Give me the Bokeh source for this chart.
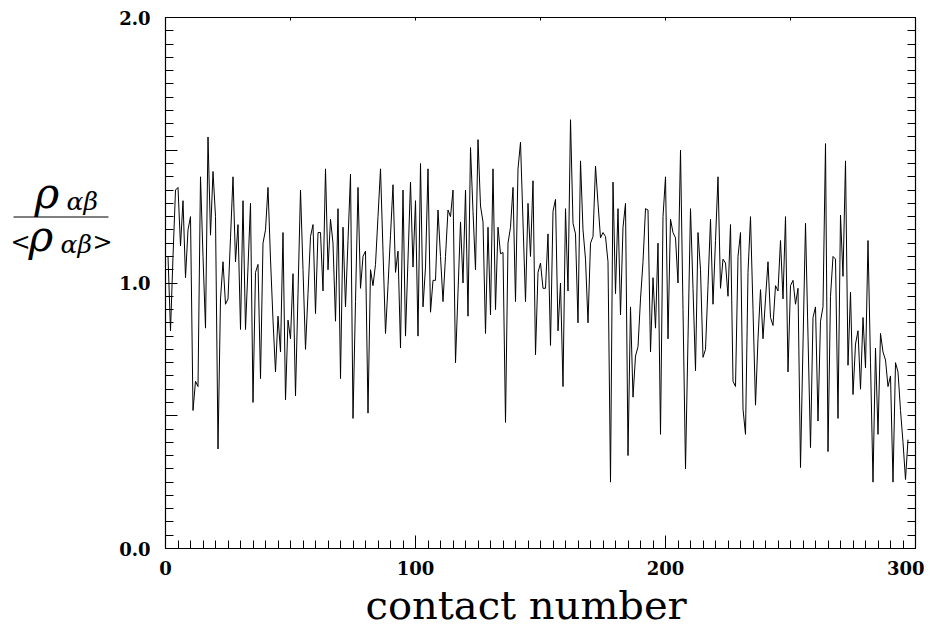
from bokeh.plotting import figure
from bokeh.layouts import row
from bokeh.models import FixedTicker, LinearAxis, Range1d, PrintfTickFormatter, Title
from bokeh.core.properties import value
from bokeh.embed import file_html
from bokeh.resources import INLINE

ratio = [
    1.10, 0.82, 1.10, 1.35, 1.36, 1.14, 1.31, 1.02, 1.20, 1.25,
    0.52, 0.63, 0.61, 1.40, 1.10, 0.83, 1.55, 1.18, 1.42, 1.25,
    0.375, 0.94, 1.08, 0.92, 0.94, 1.17, 1.40, 1.08, 1.22, 0.825,
    1.31, 0.825, 1.06, 1.30, 0.55, 1.04, 1.07, 0.64, 1.15, 1.20,
    1.36, 1.09, 0.86, 0.665, 0.875, 0.74, 1.19, 0.56, 0.86, 0.79,
    1.035, 0.575, 0.96, 1.35, 1.05, 0.75, 0.96, 1.175, 1.22, 0.885,
    1.19, 1.19, 0.97, 1.43, 1.05, 1.24, 1.15, 0.856, 1.28, 0.64,
    1.21, 0.91, 1.16, 1.41, 0.49, 0.93, 1.36, 0.98, 1.10, 1.12,
    0.51, 1.05, 0.99, 1.07, 1.25, 1.43, 1.12, 0.81, 0.99, 1.18,
    1.37, 1.04, 1.12, 0.755, 1.35, 0.80, 1.09, 1.38, 1.06, 1.31,
    0.80, 1.45, 0.91, 1.06, 1.43, 0.89, 1.01, 1.01, 1.275, 1.10,
    0.93, 1.10, 1.275, 1.25, 1.35, 0.70, 0.965, 1.23, 1.00, 1.35,
    0.875, 1.51, 1.27, 1.05, 1.54, 1.29, 1.23, 0.81, 1.21, 0.88,
    1.43, 0.90, 1.21, 1.11, 1.115, 0.475, 1.15, 1.21, 1.36, 0.93,
    1.43, 1.53, 1.23, 0.93, 1.30, 1.10, 1.385, 0.73, 1.04, 1.075,
    0.98, 0.98, 1.185, 0.765, 1.27, 1.315, 0.82, 1.00, 0.61, 1.28,
    0.97, 1.615, 1.225, 1.185, 0.85, 1.46, 1.20, 1.09, 0.85, 1.15,
    1.175, 1.44, 1.30, 1.17, 1.19, 1.175, 1.08, 0.25, 1.38, 0.96,
    1.28, 0.88, 1.21, 1.30, 0.35, 0.91, 0.57, 0.725, 0.76, 0.94,
    1.08, 1.28, 1.275, 0.74, 1.02, 0.83, 1.15, 0.43, 1.25, 1.40,
    0.79, 1.24, 1.19, 1.17, 1.00, 1.50, 0.90, 0.30, 0.79, 1.28,
    0.98, 0.67, 1.19, 1.05, 0.72, 0.75, 0.99, 1.24, 0.92, 1.16,
    1.40, 0.98, 1.09, 1.075, 0.95, 1.22, 0.63, 0.61, 1.10, 1.19,
    0.525, 0.43, 1.04, 1.25, 0.90, 0.54, 0.79, 0.975, 0.79, 0.94,
    1.08, 0.87, 0.84, 0.99, 0.97, 1.16, 0.94, 1.25, 0.665, 0.99,
    1.01, 0.92, 0.98, 0.305, 0.77, 1.225, 0.80, 0.38, 0.87, 0.91,
    0.48, 0.856, 0.91, 1.525, 0.365, 0.95, 1.10, 1.09, 0.49, 1.256,
    1.025, 1.46, 0.69, 0.965, 0.58, 0.77, 0.82, 0.60, 0.87, 0.68,
    1.16, 0.70, 0.25, 0.755, 0.43, 0.81, 0.74, 0.71, 0.61, 0.65,
    0.25, 0.70, 0.665, 0.52, 0.40, 0.26, 0.41,
]
contact = list(range(1, len(ratio) + 1))

x_major = [0, 100, 200, 300]
x_minor = list(range(0, 301, 5))
x_top = [50, 100, 150, 200, 250]
y_major = [0.0, 0.5, 1.0, 1.5, 2.0]
y_minor = [round(i * 0.05, 2) for i in range(41)]
y_hidden = {0.5: "", 1.5: ""}

FONT = "DejaVu Serif"
H = 630
LEFT_W = 115
MAIN_W = 809
TOP, BOTTOM = 17, 82

# ---- left panel: y-axis title drawn as a fraction (frame aligned with main frame) ----
lf = figure(width=LEFT_W, height=H, output_backend="svg", toolbar_location=None,
            x_range=Range1d(0, LEFT_W), y_range=Range1d(H - BOTTOM, TOP),
            x_axis_location=None, y_axis_location=None, min_border=0,
            min_border_top=TOP, min_border_bottom=BOTTOM)
lf.xgrid.visible = False
lf.ygrid.visible = False
lf.outline_line_color = None
lf.background_fill_color = "white"
lf.border_fill_color = "white"

def txt(text, x, y, size, italic=True):
    lf.text(x=[x], y=[y], text=[text], text_font=value(FONT), text_font_size=f"{size}px",
            text_font_style="italic" if italic else "normal",
            text_align="left", text_baseline="alphabetic", text_color="black")

txt("ρ", 34, 193, 42)
txt("αβ", 66, 201, 25)
lf.segment(x0=[13], y0=[216.5], x1=[108], y1=[216.5], line_color="black", line_width=1.2)
txt("<", 10, 241, 24, italic=False)
txt("ρ", 28, 236, 42)
txt("αβ", 60, 244, 25)
txt(">", 92, 241, 24, italic=False)

# ---- main plot ----
p = figure(width=MAIN_W, height=H, output_backend="svg", toolbar_location=None,
           x_range=Range1d(0, 300), y_range=Range1d(0, 2),
           x_axis_location=None, y_axis_location=None,
           min_border_left=50, min_border_right=9, min_border_top=TOP, min_border_bottom=BOTTOM)
p.xgrid.visible = False
p.ygrid.visible = False
p.outline_line_color = "black"
p.outline_line_width = 1.2
p.background_fill_color = "white"
p.border_fill_color = "white"

def style_ticks(ax, major_in, minor_in):
    ax.major_tick_in = major_in
    ax.major_tick_out = 0
    ax.minor_tick_in = minor_in
    ax.minor_tick_out = 0
    ax.axis_line_color = "black"
    ax.major_tick_line_color = "black"
    ax.minor_tick_line_color = "black"

xb = LinearAxis(ticker=FixedTicker(ticks=x_major, minor_ticks=x_minor))
style_ticks(xb, 13, 8)
xb.major_label_text_font = FONT
xb.major_label_text_font_size = "18px"
xb.major_label_text_font_style = "bold"
xb.major_label_text_color = "black"
xb.major_label_standoff = 12
p.add_layout(xb, "below")

yl = LinearAxis(ticker=FixedTicker(ticks=y_major, minor_ticks=y_minor),
                formatter=PrintfTickFormatter(format="%.1f"))
yl.major_label_overrides = y_hidden
style_ticks(yl, 12, 8)
yl.major_label_text_font = FONT
yl.major_label_text_font_size = "18px"
yl.major_label_text_font_style = "bold"
yl.major_label_text_color = "black"
yl.major_label_standoff = 15
p.add_layout(yl, "left")

xt = LinearAxis(ticker=FixedTicker(ticks=[], minor_ticks=x_top))
style_ticks(xt, 0, 3)
p.add_layout(xt, "above")

yr = LinearAxis(ticker=FixedTicker(ticks=[], minor_ticks=y_minor))
style_ticks(yr, 0, 8)
p.add_layout(yr, "right")

p.add_layout(Title(text="contact number", align="left", offset=200,
                   text_font=FONT, text_font_size="40px", text_font_style="normal",
                   text_color="black", standoff=4), "below")

p.line(contact, ratio, line_color="black", line_width=1)

layout = row(lf, p, spacing=0)
open("out.html", "w").write(file_html(layout, INLINE))
